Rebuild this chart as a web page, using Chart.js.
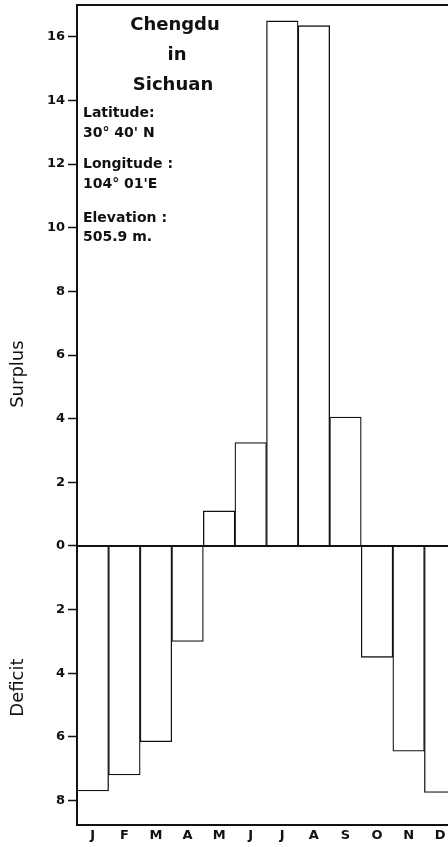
<!DOCTYPE html>
<html>
<head>
<meta charset="utf-8">
<script src="https://cdn.jsdelivr.net/npm/chart.js@4"></script>
<style>
  html, body { margin: 0; padding: 0; background: #fff; overflow: hidden; }
  #wrap { width: 448px; height: 847px; overflow: hidden; }
</style>
</head>
<body>
<div id="wrap"><canvas id="chart" width="456" height="847"></canvas></div>
<script>
const months = ["J", "F", "M", "A", "M", "J", "J", "A", "S", "O", "N", "D"];
// surplus positive, deficit negative
const balance = [-7.7, -7.2, -6.15, -3.0, 1.1, 3.25, 16.5, 16.35, 4.05, -3.5, -6.45, -7.75];
const yTicks = [-8, -6, -4, -2, 0, 2, 4, 6, 8, 10, 12, 14, 16];

const stationText = {
  id: "stationText",
  afterDatasetsDraw(chart) {
    const ctx = chart.ctx;
    const y = chart.scales.y;
    const area = chart.chartArea;
    ctx.save();
    // zero line and top frame
    ctx.strokeStyle = "#111";
    ctx.lineWidth = 2;
    ctx.beginPath();
    ctx.moveTo(area.left, y.getPixelForValue(0));
    ctx.lineTo(area.right, y.getPixelForValue(0));
    ctx.moveTo(area.left, area.top);
    ctx.lineTo(area.right, area.top);
    ctx.stroke();

    ctx.fillStyle = "#111";
    ctx.textAlign = "center";
    ctx.textBaseline = "middle";
    ctx.font = "bold 18px 'DejaVu Sans'";
    ctx.fillText("Chengdu", 175, 25);
    ctx.fillText("in", 177, 55);
    ctx.fillText("Sichuan", 173, 85);

    ctx.textAlign = "left";
    ctx.font = "bold 14px 'DejaVu Sans'";
    const lines = [["Latitude:", 113], ["30\u00b0 40' N", 133], ["Longitude :", 164],
                   ["104\u00b0 01'E", 184], ["Elevation :", 218], ["505.9 m.", 237]];
    lines.forEach(([t, ty]) => ctx.fillText(t, 83, ty));

    // axis titles
    ctx.font = "18px 'DejaVu Sans'";
    ctx.textAlign = "center";
    ctx.translate(18, y.getPixelForValue(5.4));
    ctx.rotate(-Math.PI / 2);
    ctx.fillText("Surplus", 0, 0);
    ctx.restore();
    ctx.save();
    ctx.fillStyle = "#111";
    ctx.font = "18px 'DejaVu Sans'";
    ctx.textAlign = "center";
    ctx.textBaseline = "middle";
    ctx.translate(18, y.getPixelForValue(-4.45));
    ctx.rotate(-Math.PI / 2);
    ctx.fillText("Deficit", 0, 0);
    ctx.restore();
  }
};

new Chart(document.getElementById("chart"), {
  type: "bar",
  plugins: [stationText],
  data: {
    labels: months,
    datasets: [{
      data: balance,
      backgroundColor: "#fff",
      borderColor: "#111",
      borderWidth: 1.3,
      categoryPercentage: 1,
      barPercentage: 1
    }]
  },
  options: {
    responsive: false,
    animation: false,
    layout: { padding: { top: 5, left: 0, right: 0, bottom: 0 } },
    plugins: { legend: { display: false }, tooltip: { enabled: false } },
    scales: {
      x: {
        grid: { drawOnChartArea: false, drawTicks: false },
        border: { display: true, color: "#111", width: 2 },
        ticks: { color: "#111", font: { family: "DejaVu Sans", weight: "bold", size: 13 }, padding: 3, maxRotation: 0 },
        afterFit: (s) => { s.height = 22; s.paddingLeft = 0; s.paddingRight = 0; }
      },
      y: {
        min: -8.77,
        max: 17,
        afterBuildTicks: (s) => { s.ticks = yTicks.map(v => ({ value: v })); },
        afterFit: (s) => { s.width = 77; s.paddingTop = 0; s.paddingBottom = 0; },
        grid: { drawOnChartArea: false, drawTicks: true, tickLength: 9, tickColor: "#111", tickWidth: 1.5 },
        border: { display: true, color: "#111", width: 2 },
        ticks: {
          color: "#111",
          padding: 3,
          font: { family: "DejaVu Sans", weight: "bold", size: 13 },
          callback: (v) => Math.abs(v)
        }
      }
    }
  }
});
</script>
</body>
</html>
